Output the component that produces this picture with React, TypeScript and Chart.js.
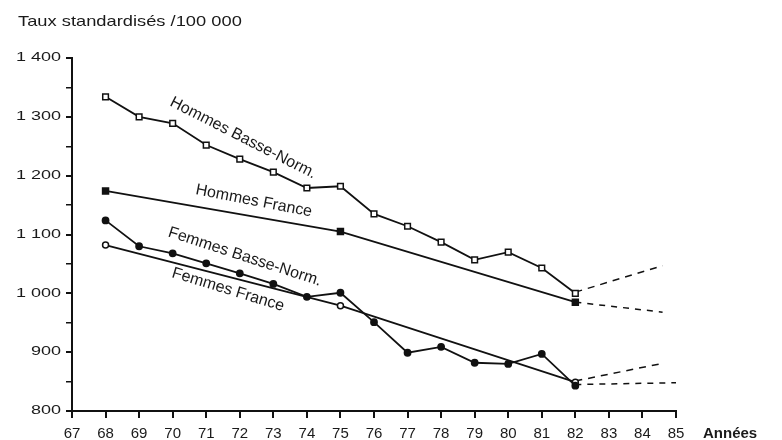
import { useEffect, useRef } from "react";
import { Chart, registerables } from "chart.js";

Chart.register(...registerables);

// ---- data ----
const years = [68, 69, 70, 71, 72, 73, 74, 75, 76, 77, 78, 79, 80, 81, 82];
const hommesBasseNorm = [1334, 1300, 1289, 1252, 1228, 1206, 1179, 1182, 1135, 1114, 1087, 1057, 1070, 1043, 1000];
const femmesBasseNorm = [1124, 1080, 1068, 1051, 1034, 1016, 994, 1001, 951, 899, 909, 882, 880, 897, 843];
const franceYears = [68, 75, 82];
const hommesFrance = [1174, 1105, 985];
const femmesFrance = [1082, 979, 849];
const projYears = [82, 84.6];
const projYearsFF = [82, 85];
const projHommesBasseNorm = [1002, 1047];
const projHommesFrance = [985, 968];
const projFemmesBasseNorm = [851, 881];
const projFemmesFrance = [845, 848];
const xTickMin = 67;
const xTickMax = 85;
const yTickMin = 800;
const yTickMax = 1400;

const titleText = "Taux standardisés /100 000";
const xAxisText = "Années";
const lineLabels = [
  { text: "Hommes Basse-Norm.", x: 72.1, y: 1264, angle: 27 },
  { text: "Hommes France", x: 72.42, y: 1157, angle: 11 },
  { text: "Femmes Basse-Norm.", x: 72.15, y: 1062, angle: 18 },
  { text: "Femmes France", x: 71.65, y: 1006, angle: 17 },
];

const formatY = (n: number) =>
  n >= 1000 ? `${Math.floor(n / 1000)} ${String(n % 1000).padStart(3, "0")}` : String(n);

const pts = (xs: number[], ys: number[]) => xs.map((x, i) => ({ x, y: ys[i] }));
const FONT = "'Liberation Sans', Arial, sans-serif";

const textPlugin = {
  id: "texts",
  afterDraw(chart: any) {
    const { ctx, chartArea, scales } = chart;
    const xs = scales.x;
    const ys = scales.y;
    ctx.save();
    ctx.fillStyle = "#1a1a1a";
    ctx.textBaseline = "middle";

    // title, stretched like the scanned original
    ctx.font = `15px ${FONT}`;
    ctx.textAlign = "left";
    ctx.save();
    ctx.translate(18, 22);
    ctx.scale(1.22, 1);
    ctx.fillText(titleText, 0, 0);
    ctx.restore();

    // y tick labels (from the scale's own ticks)
    ctx.font = `12px ${FONT}`;
    ctx.textAlign = "right";
    for (const t of ys.ticks) {
      if (t.value % 100 !== 0) continue;
      ctx.save();
      ctx.translate(chartArea.left - 11, ys.getPixelForValue(t.value));
      ctx.scale(1.5, 1);
      ctx.fillText(formatY(t.value), 0, 0);
      ctx.restore();
    }

    // x axis name
    ctx.font = `bold 15px ${FONT}`;
    ctx.textAlign = "left";
    ctx.fillText(xAxisText, chartArea.right + 27, chartArea.bottom + 23);

    // series labels along the lines
    ctx.font = `16px ${FONT}`;
    ctx.textAlign = "center";
    for (const l of lineLabels) {
      ctx.save();
      ctx.translate(xs.getPixelForValue(l.x), ys.getPixelForValue(l.y));
      ctx.rotate((l.angle * Math.PI) / 180);
      ctx.fillText(l.text, 0, 0);
      ctx.restore();
    }
    ctx.restore();
  },
};

export default function App() {
  const ref = useRef<HTMLCanvasElement>(null);
  useEffect(() => {
    if (!ref.current) return;
    const black = "#111";
    const chart = new Chart(ref.current, {
      type: "line",
      data: {
        datasets: [
          {
            label: "Hommes Basse-Norm.",
            data: pts(years, hommesBasseNorm),
            borderColor: black,
            borderWidth: 1.8,
            pointStyle: "rect",
            pointRadius: 4,
            pointBackgroundColor: "#fff",
            pointBorderColor: black,
            pointBorderWidth: 1.5,
          },
          {
            label: "Hommes France",
            data: pts(franceYears, hommesFrance),
            borderColor: black,
            borderWidth: 1.8,
            pointStyle: "rect",
            pointRadius: 4,
            pointBackgroundColor: black,
            pointBorderColor: black,
          },
          {
            label: "Femmes Basse-Norm.",
            data: pts(years, femmesBasseNorm),
            borderColor: black,
            borderWidth: 1.8,
            pointStyle: "circle",
            pointRadius: 3,
            pointBackgroundColor: black,
            pointBorderColor: black,
          },
          {
            label: "Femmes France",
            data: pts(franceYears, femmesFrance),
            borderColor: black,
            borderWidth: 1.8,
            pointStyle: "circle",
            pointRadius: 3,
            pointBackgroundColor: "#fff",
            pointBorderColor: black,
            pointBorderWidth: 1.5,
          },
          {
            label: "proj HBN",
            data: pts(projYears, projHommesBasseNorm),
            borderColor: black,
            borderWidth: 1.5,
            borderDash: [7, 6],
            pointRadius: 0,
          },
          {
            label: "proj HF",
            data: pts(projYears, projHommesFrance),
            borderColor: black,
            borderWidth: 1.5,
            borderDash: [6, 6],
            pointRadius: 0,
          },
          {
            label: "proj FBN",
            data: pts(projYears, projFemmesBasseNorm),
            borderColor: black,
            borderWidth: 1.5,
            borderDash: [7, 6],
            pointRadius: 0,
          },
          {
            label: "proj FF",
            data: pts(projYearsFF, projFemmesFrance),
            borderColor: black,
            borderWidth: 1.5,
            borderDash: [6, 6],
            pointRadius: 0,
          },
        ],
      },
      options: {
        responsive: false,
        animation: false,
        layout: { padding: { top: 58, right: 106, left: 0, bottom: 0 } },
        plugins: { legend: { display: false }, tooltip: { enabled: false } },
        scales: {
          x: {
            type: "linear",
            min: xTickMin,
            max: xTickMax,
            afterFit: (s: any) => {
              s.height = 29;
            },
            ticks: {
              stepSize: 1,
              color: "#1a1a1a",
              font: { family: FONT, size: 15 },
              padding: 7,
              maxRotation: 0,
              autoSkip: false,
            },
            grid: { drawOnChartArea: false, drawTicks: true, tickLength: 7, color: black, lineWidth: 2 },
            border: { display: true, color: black, width: 2 },
          },
          y: {
            min: yTickMin,
            max: yTickMax,
            afterFit: (s: any) => {
              s.width = 72;
            },
            ticks: {
              stepSize: 50,
              display: false,
            },
            grid: {
              drawOnChartArea: false,
              drawTicks: true,
              tickLength: 6,
              color: black,
              lineWidth: (c: any) => (c.tick && c.tick.value % 100 === 0 ? 2 : 1.5),
            },
            border: { display: true, color: black, width: 2 },
          },
        },
      },
      plugins: [textPlugin],
    });
    return () => chart.destroy();
  }, []);
  return (
    <div style={{ position: "fixed", left: 0, top: 0, width: 782, height: 440, background: "#fff" }}>
      <canvas ref={ref} width={782} height={440} />
    </div>
  );
}
